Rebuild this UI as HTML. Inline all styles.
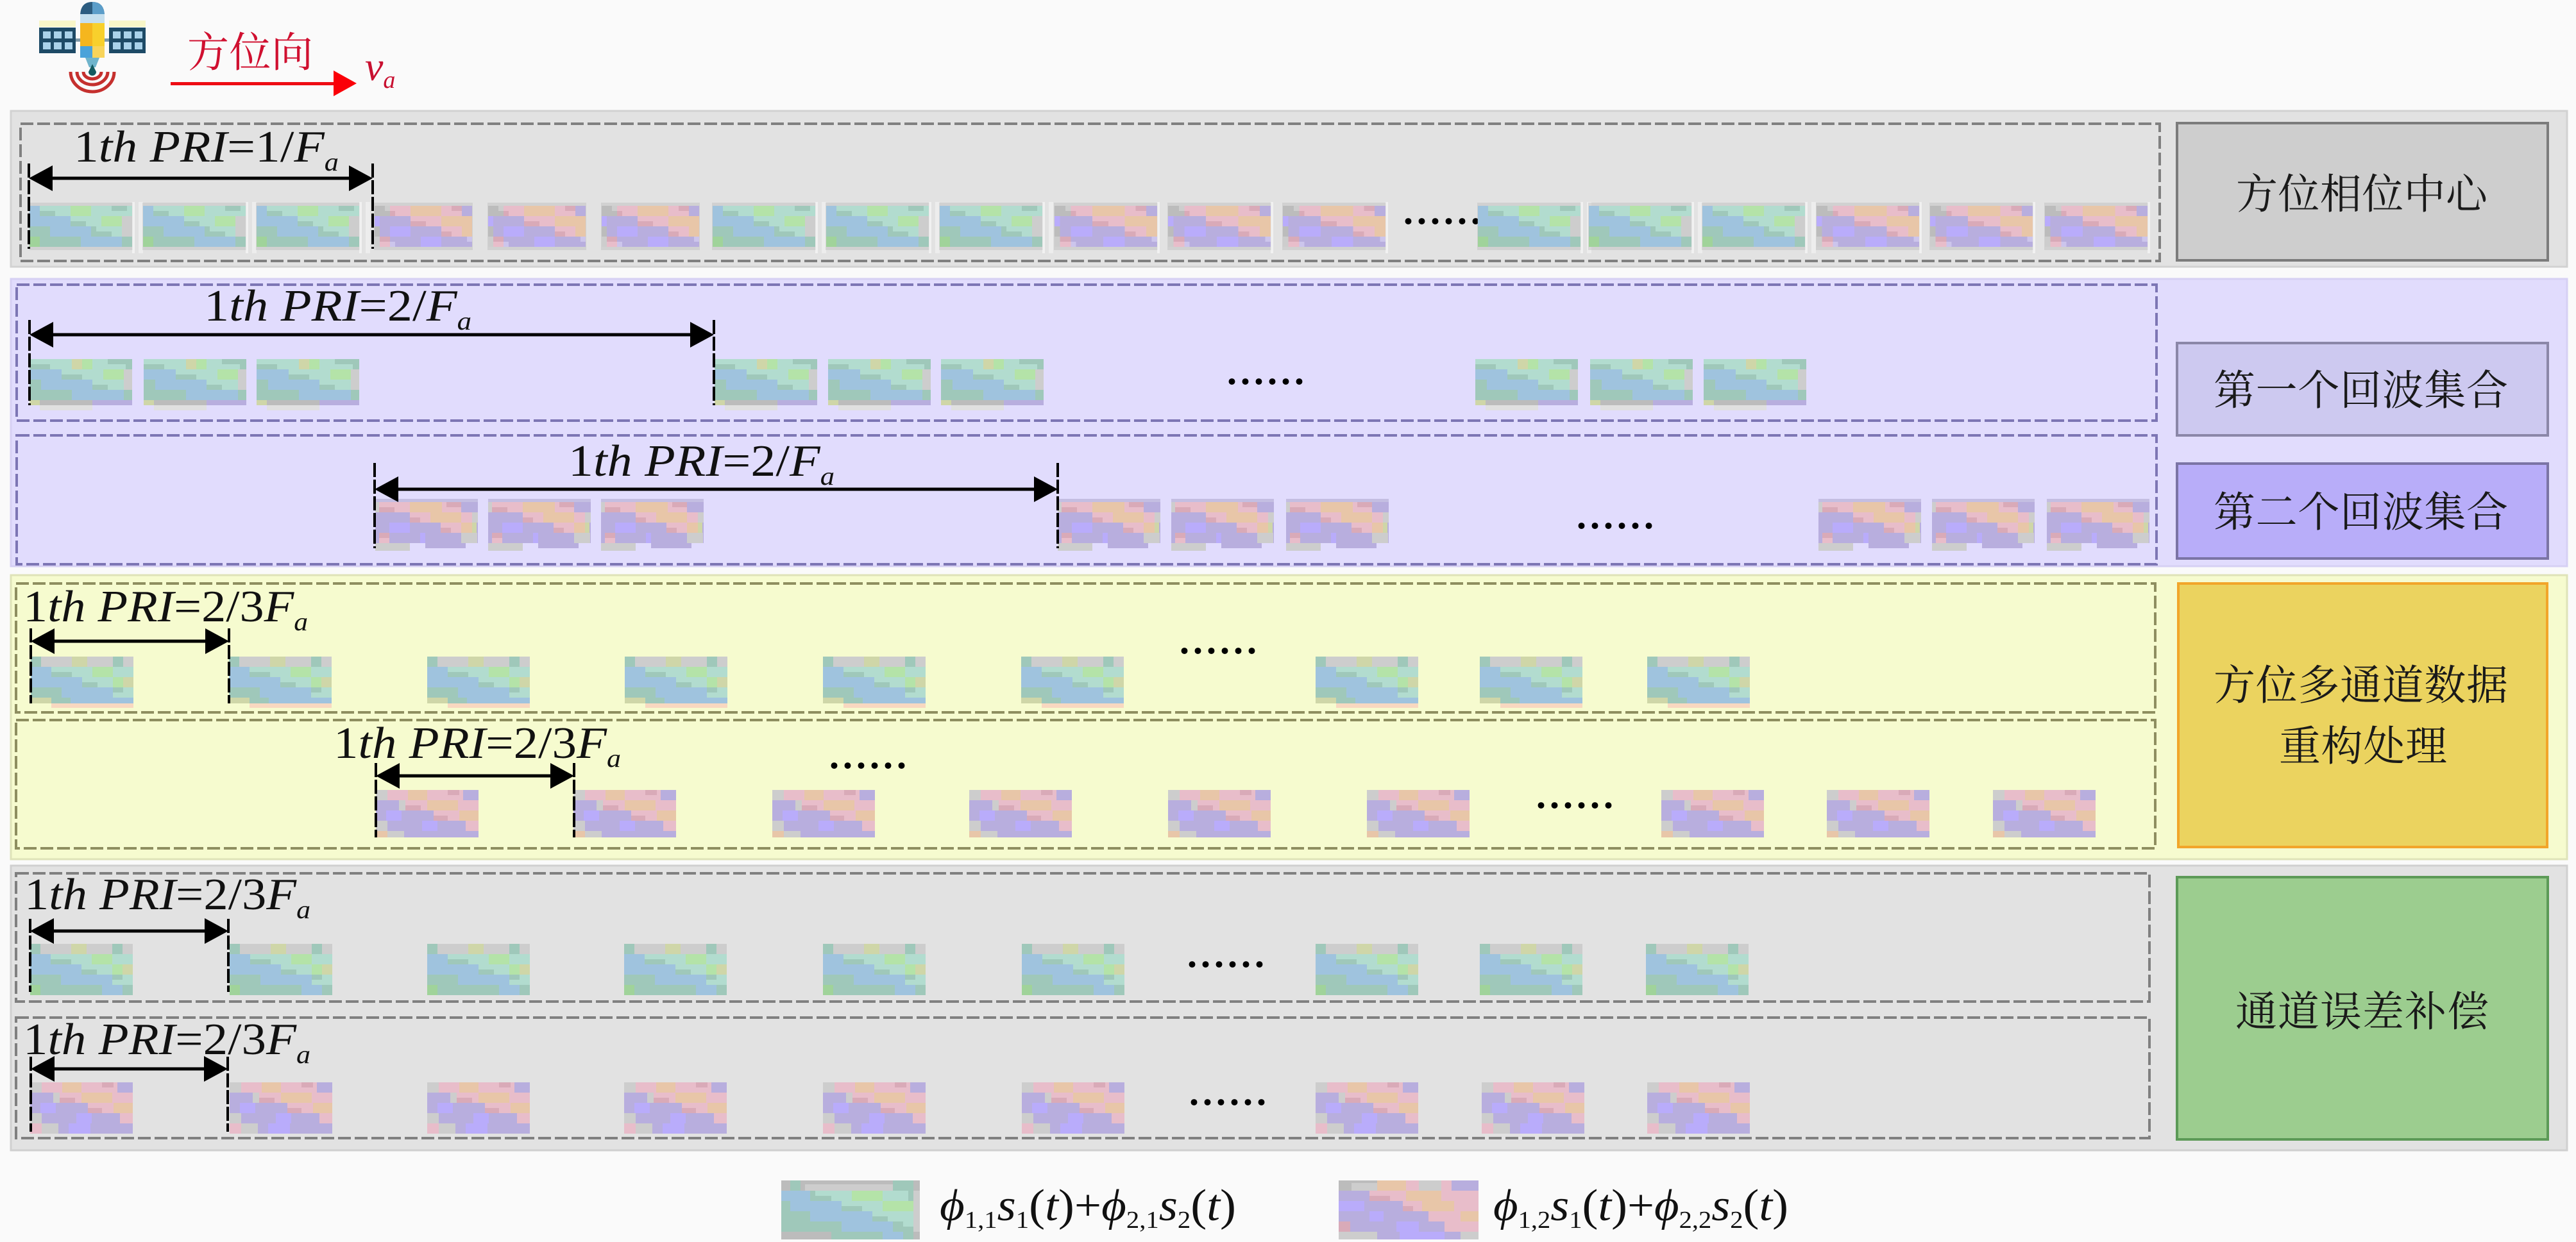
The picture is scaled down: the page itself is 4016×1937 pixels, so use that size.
<!DOCTYPE html>
<html lang="zh">
<head>
<meta charset="utf-8">
<title>方位多通道数据重构</title>
<style>
html,body{margin:0;padding:0;background:#fafafa;width:4016px;height:1937px;overflow:hidden}
svg{display:block}
.m{font-family:"Liberation Serif",serif;font-size:70px;fill:#111}
.i{font-style:italic}
.s{font-size:40px;font-style:italic}
.z{font-size:38px}
.c{font-family:"Liberation Serif","Noto Serif CJK SC",serif;font-size:65px;fill:#1a1a1a}
.d{font-family:"Liberation Serif",serif;font-size:84px;fill:#000}
.B{fill:#9fc3de}.T{fill:#b2dccf}.D{fill:#9fc8ba}.G{fill:#b4e3a8}.L{fill:#a0d39a}.C{fill:#cdcdcd}.K{fill:#bcbcbc}.Y{fill:#cfd6a8}
.P{fill:#e8bdca}.O{fill:#e8c6a8}.V{fill:#b8aede}.U{fill:#b9acfb}.R{fill:#d9aab8}.W{fill:#ccc5ec}
</style>
</head>
<body>
<svg xmlns="http://www.w3.org/2000/svg" width="4016" height="1937" viewBox="0 0 4016 1937">
<defs>
<g id="hl">
<rect x="-1" y="-5" width="162" height="74" fill="#a8a8a8" opacity=".3"/>
<rect x="160" y="-6" width="4" height="80" fill="#fff" opacity=".5"/>
<rect x="170" y="-6" width="7" height="80" fill="#fff" opacity=".4"/>
</g>
<!-- row-1 green, 4 rows -->
<g id="g" shape-rendering="crispEdges">
<use href="#hl"/>
<rect class="B" width="160" height="64"/>
<rect class="T" x="16" width="48" height="16"/><rect class="D" x="16" y="8" width="24" height="8"/>
<rect class="G" x="64" width="32" height="16"/>
<rect class="T" x="96" width="64" height="16"/><rect class="D" x="128" width="24" height="8"/>
<rect class="T" x="64" y="16" width="48" height="16"/><rect class="D" x="64" y="24" width="24" height="8"/>
<rect class="G" x="112" y="16" width="32" height="16"/><rect class="C" x="144" y="16" width="16" height="32"/>
<rect class="D" y="32" width="32" height="16"/>
<rect class="T" x="96" y="32" width="48" height="16"/><rect class="D" x="96" y="32" width="8" height="8"/><rect class="D" x="96" y="40" width="32" height="8"/>
<rect class="L" y="48" width="16" height="16"/><rect class="D" x="16" y="48" width="64" height="16"/>
<rect class="D" x="144" y="48" width="16" height="16"/>
</g>
<!-- row-1 pink base, 152 wide -->
<g id="pb" shape-rendering="crispEdges">
<rect x="-1" y="-5" width="154" height="74" fill="#a8a8a8" opacity=".3"/>
<rect class="V" width="152" height="64"/>
<rect class="K" width="24" height="16"/><rect class="C" x="16" width="8" height="8"/>
<rect class="P" x="24" width="32" height="16"/><rect class="R" x="24" y="8" width="8" height="8"/>
<rect class="O" x="56" width="48" height="16"/>
<rect class="P" x="104" width="32" height="16"/><rect class="R" x="120" width="16" height="8"/>
<rect class="U" y="16" width="8" height="16"/>
<rect class="P" x="56" y="16" width="48" height="16"/><rect class="R" x="56" y="24" width="24" height="8"/>
<rect class="O" x="104" y="16" width="48" height="16"/>
<rect class="K" y="32" width="8" height="16"/><rect class="U" x="24" y="32" width="32" height="16"/>
<rect class="P" x="104" y="32" width="32" height="16"/><rect class="R" x="104" y="40" width="16" height="8"/>
<rect class="O" x="136" y="32" width="16" height="16"/>
<rect class="C" y="48" width="8" height="16"/><rect class="R" x="8" y="48" width="16" height="8"/><rect class="P" x="8" y="56" width="16" height="8"/>
<rect class="W" x="24" y="56" width="8" height="8"/>
<rect class="U" x="72" y="48" width="32" height="16"/><rect class="W" x="144" y="48" width="8" height="8"/>
</g>
<g id="p"><use href="#pb" transform="scale(1.053,1)"/>
<rect x="160" y="-6" width="4" height="80" fill="#fff" opacity=".5"/></g>
<!-- 2a green -->
<g id="ga" shape-rendering="crispEdges">
<rect class="T" width="160" height="16"/>
<rect class="D" y="8" width="32" height="8"/><rect class="Y" x="66" width="16" height="16"/><rect class="G" x="82" width="16" height="16"/>
<rect class="D" x="122" width="28" height="8"/><rect class="D" x="150" width="10" height="16"/>
<rect class="T" y="16" width="160" height="32"/>
<rect class="B" y="16" width="50" height="16"/><rect class="D" x="50" y="24" width="32" height="8"/>
<rect class="G" x="115" y="16" width="32" height="16"/><rect class="C" x="147" y="16" width="13" height="32"/>
<rect class="D" y="32" width="18" height="16"/><rect class="B" x="18" y="32" width="80" height="16"/><rect class="D" x="98" y="40" width="24" height="8"/>
<rect class="D" y="48" width="66" height="16"/><rect class="B" x="66" y="48" width="81" height="16"/><rect class="D" x="147" y="48" width="13" height="16"/>
<rect class="Y" y="64" width="16" height="8"/><rect class="K" x="16" y="64" width="82" height="8"/><rect class="V" x="98" y="64" width="62" height="8"/>
<rect x="16" y="72" width="82" height="8" fill="#e0e0e0"/>
</g>
<!-- 2b pink -->
<g id="pa" shape-rendering="crispEdges">
<rect x="0" y="-5" width="160" height="5" fill="#a8a0c8" opacity=".5"/>
<rect class="V" width="160" height="64"/>
<rect class="C" width="6" height="16"/>
<rect class="P" x="6" width="48" height="16"/><rect class="R" x="6" y="8" width="24" height="8"/>
<rect class="O" x="54" width="50" height="16"/><rect class="P" x="104" width="30" height="16"/><rect class="R" x="111" width="23" height="8"/>
<rect class="P" x="54" y="16" width="32" height="16"/><rect class="R" x="54" y="24" width="16" height="8"/>
<rect class="O" x="86" y="16" width="48" height="16"/><rect class="P" x="134" y="16" width="17" height="16"/><rect class="C" x="151" y="16" width="9" height="16"/>
<rect class="U" x="22" y="32" width="32" height="16"/>
<rect class="P" x="102" y="32" width="32" height="16"/><rect class="R" x="102" y="40" width="16" height="8"/>
<rect class="O" x="134" y="32" width="17" height="16"/><rect class="Y" x="151" y="32" width="7" height="16"/>
<rect class="P" x="6" y="48" width="16" height="16"/><rect class="R" x="6" y="48" width="16" height="8"/>
<rect class="U" x="70" y="48" width="8" height="16"/><rect class="C" x="134" y="48" width="25" height="16"/>
<rect class="C" y="64" width="54" height="12"/><rect class="V" x="78" y="64" width="63" height="8"/>
</g>
<!-- 5 row green top -->
<g id="gt" shape-rendering="crispEdges">
<rect class="B" width="160" height="64"/>
<rect class="C" width="160" height="16"/><rect class="D" width="16" height="16"/><rect class="Y" x="64" width="24" height="16"/><rect class="D" x="128" width="16" height="16"/>
<rect class="T" x="32" y="16" width="64" height="16"/><rect class="D" x="32" y="24" width="32" height="8"/>
<rect class="G" x="96" y="16" width="32" height="16"/><rect class="T" x="128" y="16" width="32" height="16"/>
<rect class="T" x="80" y="32" width="48" height="16"/><rect class="D" x="80" y="40" width="24" height="8"/>
<rect class="G" x="128" y="32" width="16" height="16"/><rect class="Y" x="144" y="32" width="16" height="16"/>
<rect class="D" y="48" width="48" height="16"/><rect class="T" x="128" y="48" width="32" height="16"/><rect class="D" x="128" y="48" width="16" height="8"/>
</g>
<g id="g5" shape-rendering="crispEdges"><use href="#gt"/>
<rect class="L" y="64" width="16" height="16"/><rect class="D" x="16" y="64" width="96" height="16"/><rect class="B" x="112" y="64" width="32" height="16"/><rect class="D" x="144" y="64" width="16" height="16"/>
</g>
<g id="g3" shape-rendering="crispEdges"><use href="#gt"/>
<rect class="Y" y="64" width="32" height="9"/><rect class="D" x="32" y="64" width="30" height="9"/><rect class="B" x="62" y="64" width="98" height="9"/>
<rect x="32" y="73" width="128" height="7" fill="#f8d8c0"/>
</g>
<!-- 5 row pink top -->
<g id="pt" shape-rendering="crispEdges">
<rect class="V" width="160" height="64"/>
<rect class="C" width="18" height="16"/><rect class="P" x="18" width="32" height="16"/><rect class="O" x="50" width="30" height="16"/>
<rect class="P" x="80" width="56" height="16"/><rect class="R" x="112" width="18" height="8"/>
<rect class="C" x="36" y="16" width="10" height="16"/><rect class="P" x="46" y="16" width="34" height="16"/><rect class="R" x="46" y="24" width="24" height="8"/>
<rect class="O" x="80" y="16" width="48" height="16"/><rect class="P" x="128" y="16" width="32" height="16"/>
<rect class="U" x="16" y="32" width="24" height="16"/><rect class="P" x="90" y="32" width="40" height="16"/><rect class="R" x="90" y="40" width="22" height="8"/><rect class="O" x="130" y="32" width="30" height="16"/>
<rect class="C" y="48" width="18" height="16"/><rect class="U" x="72" y="48" width="24" height="16"/><rect class="P" x="140" y="48" width="20" height="16"/>
</g>
<g id="p5" shape-rendering="crispEdges"><use href="#pt"/>
<rect class="P" y="64" width="18" height="16"/><rect class="C" x="18" y="64" width="26" height="16"/><rect class="V" x="44" y="64" width="116" height="16"/><rect class="U" x="60" y="64" width="34" height="16"/>
</g>
<g id="p3" shape-rendering="crispEdges"><use href="#pt"/>
<rect class="O" y="64" width="18" height="10"/><rect class="C" x="18" y="64" width="26" height="10"/><rect class="V" x="44" y="64" width="116" height="10"/>
</g>
<!-- legend chips -->
<g id="lg" shape-rendering="crispEdges">
<rect class="K" width="216" height="92"/>
<rect class="C" x="37" y="6" width="137" height="10"/><rect class="D" x="14" width="16" height="16"/><rect class="D" x="174" width="32" height="16"/>
<rect class="T" y="16" x="45" width="161" height="32"/><rect class="B" y="16" width="45" height="16"/><rect class="D" x="45" y="16" width="8" height="8"/><rect class="D" x="45" y="24" width="33" height="8"/>
<rect class="G" x="110" y="16" width="48" height="16"/><rect class="D" x="198" y="16" width="8" height="16"/><rect class="C" x="206" y="16" width="10" height="64"/>
<rect class="D" y="32" width="14" height="16"/><rect class="B" x="14" y="32" width="80" height="16"/><rect class="T" x="94" y="32" width="64" height="16"/><rect class="D" x="94" y="40" width="32" height="8"/><rect class="G" x="158" y="32" width="48" height="16"/>
<rect class="D" y="48" width="45" height="16"/><rect class="B" x="45" y="48" width="97" height="16"/><rect class="T" x="142" y="48" width="64" height="16"/><rect class="D" x="142" y="56" width="24" height="8"/>
<rect class="D" y="64" width="94" height="16"/><rect class="B" x="94" y="64" width="80" height="16"/><rect class="D" x="174" y="64" width="32" height="16"/><rect class="T" x="190" y="64" width="16" height="8"/>
<rect class="K" y="80" width="78" height="12"/><rect class="D" x="78" y="80" width="80" height="12"/><rect class="B" x="158" y="80" width="32" height="12"/><rect class="D" x="190" y="80" width="16" height="12"/>
</g>
<g id="lp" shape-rendering="crispEdges">
<rect class="V" width="218" height="92"/>
<rect class="K" width="60" height="16"/><rect class="C" x="20" y="4" width="40" height="12"/><rect class="O" x="60" width="45" height="16"/><rect class="P" x="105" width="20" height="16"/><rect class="C" x="125" width="35" height="16"/><rect class="P" x="160" width="16" height="16"/>
<rect class="P" x="48" y="16" width="57" height="16"/><rect class="R" x="48" y="24" width="32" height="8"/><rect class="O" x="105" y="16" width="55" height="16"/><rect class="P" x="160" y="16" width="58" height="16"/>
<rect class="U" y="32" width="40" height="16"/><rect class="P" x="100" y="32" width="30" height="16"/><rect class="R" x="100" y="40" width="16" height="8"/><rect class="O" x="130" y="32" width="50" height="16"/><rect class="P" x="180" y="32" width="38" height="16"/>
<rect class="U" x="48" y="48" width="22" height="16"/><rect class="P" x="140" y="48" width="50" height="16"/><rect class="O" x="190" y="48" width="28" height="16"/>
<rect class="R" y="64" width="18" height="16"/><rect class="U" x="90" y="64" width="35" height="16"/><rect class="P" x="165" y="64" width="53" height="16"/>
<rect class="C" y="80" width="60" height="12"/><rect class="U" x="95" y="80" width="70" height="12"/><rect class="C" x="190" y="80" width="28" height="12"/>
</g>
<g id="al"><path d="M0 0L37 -20V20Z" fill="#000"/></g>
<g id="ar"><path d="M0 0L-37 -20V20Z" fill="#000"/></g>
</defs>

<rect width="4016" height="1937" fill="#fafafa"/>

<!-- satellite -->
<g>
<rect x="61" y="32" width="57" height="10" fill="#f8f6c8"/><rect x="170" y="32" width="57" height="10" fill="#f8f6c8"/>
<rect x="61" y="43" width="57" height="40" fill="#1d4a66"/><rect x="170" y="43" width="57" height="40" fill="#1d4a66"/>
<g fill="#a9d2ea">
<rect x="67" y="49" width="12" height="11"/><rect x="84" y="49" width="12" height="11"/><rect x="101" y="49" width="12" height="11"/>
<rect x="67" y="66" width="12" height="11"/><rect x="84" y="66" width="12" height="11"/><rect x="101" y="66" width="12" height="11"/>
<rect x="176" y="49" width="12" height="11"/><rect x="193" y="49" width="12" height="11"/><rect x="210" y="49" width="12" height="11"/>
<rect x="176" y="66" width="12" height="11"/><rect x="193" y="66" width="12" height="11"/><rect x="210" y="66" width="12" height="11"/>
</g>
<rect x="118" y="60" width="52" height="5" fill="#7f9aa8"/>
<path d="M125 25Q125 3 144 3Q163 3 163 25V36H125Z" fill="#2c5c80"/>
<path d="M144 3Q163 3 163 25V36H144Z" fill="#5b9dc9"/>
<rect x="125" y="22" width="38" height="14" fill="#c5dfee"/>
<rect x="125" y="36" width="38" height="36" fill="#f5b61e"/>
<rect x="144" y="36" width="19" height="36" fill="#f8d02c"/>
<rect x="125" y="72" width="38" height="18" fill="#4aa3da"/>
<rect x="144" y="72" width="19" height="18" fill="#f8d45a"/>
<path d="M133 90H155L149 105H139Z" fill="#6fb4cc"/>
<path d="M144 100L150 112A6 6 0 0 1 138 112Z" fill="#135a60"/>
<path d="M110 112A34 31 0 0 0 178 112" fill="none" stroke="#c5302e" stroke-width="5"/>
<path d="M120 112A24 20 0 0 0 168 112" fill="none" stroke="#c5302e" stroke-width="5"/>
<path d="M130 112A14 11 0 0 0 158 112" fill="none" stroke="#c5302e" stroke-width="5"/>
</g>
<text x="292" y="104" font-family="'Liberation Serif','Noto Serif CJK SC',serif" font-size="65" fill="#d01030" textLength="196">方位向</text>
<rect x="266" y="128" width="256" height="5" fill="#ee0c14"/>
<path d="M520 110L556 130L520 150Z" fill="#fa0008"/>
<text x="569" y="125" class="i" font-family="'Liberation Serif',serif" font-size="64" fill="#c81030">v<tspan font-size="38" dy="12">a</tspan></text>

<!-- panels -->
<rect x="17" y="173" width="3985" height="243" fill="#e2e2e2" stroke="#d2d2d2" stroke-width="3"/>
<rect x="17" y="435" width="3985" height="448" fill="#e1dcfd" stroke="#d6d0f4" stroke-width="3"/>
<rect x="17" y="897" width="3985" height="443" fill="#f6fbcf" stroke="#dfe3b8" stroke-width="3"/>
<rect x="17" y="1350" width="3985" height="444" fill="#e2e2e2" stroke="#d0d0d0" stroke-width="3"/>

<!-- dashed boxes -->
<g fill="none" stroke-width="4" stroke-dasharray="20 6">
<rect x="32" y="193" width="3335" height="214" stroke="#808080"/>
<rect x="26" y="444" width="3336" height="212" stroke="#7d76b4"/>
<rect x="26" y="679" width="3336" height="201" stroke="#7d76b4"/>
<rect x="25" y="910" width="3335" height="201" stroke="#8e8e60"/>
<rect x="25" y="1123" width="3335" height="200" stroke="#8e8e60"/>
<rect x="25" y="1362" width="3326" height="200" stroke="#808080"/>
<rect x="25" y="1587" width="3326" height="188" stroke="#808080"/>
</g>

<!-- right boxes -->
<g stroke-width="4">
<rect x="3394" y="192" width="578" height="214" fill="#cecece" stroke="#7c7c7c"/>
<rect x="3394" y="535" width="578" height="144" fill="#cdc9f0" stroke="#8b87a8"/>
<rect x="3394" y="723" width="578" height="148" fill="#b8adf9" stroke="#7b74a5"/>
<rect x="3396" y="910" width="575" height="411" fill="#ebd35f" stroke="#f2a52a"/>
<rect x="3394" y="1368" width="578" height="409" fill="#9ccd8f" stroke="#5c9a57"/>
</g>
<text class="c" x="3486" y="325" textLength="392">方位相位中心</text>
<text class="c" x="3451" y="631" textLength="459">第一个回波集合</text>
<text class="c" x="3451" y="821" textLength="459">第二个回波集合</text>
<text class="c" x="3451" y="1091" textLength="459">方位多通道数据</text>
<text class="c" x="3553" y="1186" textLength="262">重构处理</text>
<text class="c" x="3485" y="1600" textLength="395">通道误差补偿</text>

<!-- row 1 dots sit beneath the chips -->
<text class="d" x="2185" y="349">......</text>

<!-- row 1 chips -->
<use href="#g" x="46" y="321"/><use href="#g" x="223" y="321"/><use href="#g" x="400" y="321"/>
<use href="#pb" x="584" y="321"/><use href="#pb" x="761" y="321"/><use href="#pb" x="938" y="321"/>
<use href="#g" x="1111" y="321"/><use href="#g" x="1288" y="321"/><use href="#g" x="1465" y="321"/>
<use href="#p" x="1644" y="321"/><use href="#p" x="1821" y="321"/><use href="#p" x="2000" y="321"/>
<use href="#g" x="2304" y="321"/><use href="#g" x="2477" y="321"/><use href="#g" x="2654" y="321"/>
<use href="#p" x="2832" y="321"/><use href="#p" x="3009" y="321"/><use href="#p" x="3188" y="321"/>
<!-- 2a -->
<use href="#ga" x="46" y="560"/><use href="#ga" x="224" y="560"/><use href="#ga" x="400" y="560"/>
<use href="#ga" x="1114" y="560"/><use href="#ga" x="1291" y="560"/><use href="#ga" x="1467" y="560"/>
<use href="#ga" x="2300" y="560"/><use href="#ga" x="2479" y="560"/><use href="#ga" x="2656" y="560"/>
<!-- 2b -->
<use href="#pa" x="585" y="783"/><use href="#pa" x="761" y="783"/><use href="#pa" x="937" y="783"/>
<use href="#pa" x="1649" y="783"/><use href="#pa" x="1826" y="783"/><use href="#pa" x="2005" y="783"/>
<use href="#pa" x="2835" y="783"/><use href="#pa" x="3012" y="783"/><use href="#pa" x="3191" y="783"/>
<!-- 3a -->
<use href="#g3" x="48" y="1024"/><use href="#g3" x="357" y="1024"/><use href="#g3" x="666" y="1024"/><use href="#g3" x="974" y="1024"/><use href="#g3" x="1283" y="1024"/><use href="#g3" x="1592" y="1024"/><use href="#g3" x="2051" y="1024"/><use href="#g3" x="2307" y="1024"/><use href="#g3" x="2568" y="1024"/>
<!-- 3b -->
<use href="#p3" x="586" y="1232"/><use href="#p3" x="894" y="1232"/><use href="#p3" x="1204" y="1232"/><use href="#p3" x="1511" y="1232"/><use href="#p3" x="1821" y="1232"/><use href="#p3" x="2131" y="1232"/><use href="#p3" x="2590" y="1232"/><use href="#p3" x="2848" y="1232"/><use href="#p3" x="3107" y="1232"/>
<!-- 4a -->
<use href="#g5" x="47" y="1472"/><use href="#g5" x="358" y="1472"/><use href="#g5" x="666" y="1472"/><use href="#g5" x="973" y="1472"/><use href="#g5" x="1283" y="1472"/><use href="#g5" x="1593" y="1472"/><use href="#g5" x="2051" y="1472"/><use href="#g5" x="2307" y="1472"/><use href="#g5" x="2566" y="1472"/>
<!-- 4b -->
<use href="#p5" x="47" y="1688"/><use href="#p5" x="358" y="1688"/><use href="#p5" x="666" y="1688"/><use href="#p5" x="973" y="1688"/><use href="#p5" x="1283" y="1688"/><use href="#p5" x="1593" y="1688"/><use href="#p5" x="2051" y="1688"/><use href="#p5" x="2310" y="1688"/><use href="#p5" x="2568" y="1688"/>
<!-- legend chips -->
<use href="#lg" x="1218" y="1841"/>
<use href="#lp" x="2087" y="1841"/>

<!-- ticks -->
<g stroke="#000" stroke-width="4" stroke-dasharray="22 4">
<path d="M45 255V388M581 255V388"/>
<path d="M46 499V632M1113 499V632"/>
<path d="M584 722V855M1649 722V855"/>
<path d="M48 980V1097M357 980V1097"/>
<path d="M586 1190V1306M895 1190V1306"/>
<path d="M47 1433V1547M356 1433V1547"/>
<path d="M48 1648V1765M355 1648V1765"/>
</g>

<!-- arrows -->
<g fill="#000">
<rect x="78" y="275.500" width="470" height="5"/><use href="#al" x="45" y="278"/><use href="#ar" x="581" y="278"/>
<rect x="78" y="519.500" width="1000" height="5"/><use href="#al" x="46" y="522"/><use href="#ar" x="1113" y="522"/>
<rect x="616" y="760.500" width="1000" height="5"/><use href="#al" x="584" y="763"/><use href="#ar" x="1649" y="763"/>
<rect x="80" y="997.500" width="245" height="5"/><use href="#al" x="48" y="1000"/><use href="#ar" x="357" y="1000"/>
<rect x="618" y="1207.500" width="245" height="5"/><use href="#al" x="586" y="1210"/><use href="#ar" x="895" y="1210"/>
<rect x="79" y="1449.500" width="245" height="5"/><use href="#al" x="47" y="1452"/><use href="#ar" x="356" y="1452"/>
<rect x="80" y="1664.500" width="243" height="5"/><use href="#al" x="48" y="1667"/><use href="#ar" x="355" y="1667"/>
</g>

<!-- PRI labels -->
<text class="m" x="115" y="252" textLength="413" lengthAdjust="spacingAndGlyphs">1<tspan class="i">th PRI</tspan>=1/<tspan class="i">F</tspan><tspan class="s" dy="14">a</tspan></text>
<text class="m" x="318" y="500" textLength="417" lengthAdjust="spacingAndGlyphs">1<tspan class="i">th PRI</tspan>=2/<tspan class="i">F</tspan><tspan class="s" dy="14">a</tspan></text>
<text class="m" x="886" y="742" textLength="415" lengthAdjust="spacingAndGlyphs">1<tspan class="i">th PRI</tspan>=2/<tspan class="i">F</tspan><tspan class="s" dy="14">a</tspan></text>
<text class="m" x="36" y="969" textLength="444" lengthAdjust="spacingAndGlyphs">1<tspan class="i">th PRI</tspan>=2/3<tspan class="i">F</tspan><tspan class="s" dy="14">a</tspan></text>
<text class="m" x="520" y="1182" textLength="448" lengthAdjust="spacingAndGlyphs">1<tspan class="i">th PRI</tspan>=2/3<tspan class="i">F</tspan><tspan class="s" dy="14">a</tspan></text>
<text class="m" x="38" y="1418" textLength="446" lengthAdjust="spacingAndGlyphs">1<tspan class="i">th PRI</tspan>=2/3<tspan class="i">F</tspan><tspan class="s" dy="14">a</tspan></text>
<text class="m" x="36" y="1644" textLength="448" lengthAdjust="spacingAndGlyphs">1<tspan class="i">th PRI</tspan>=2/3<tspan class="i">F</tspan><tspan class="s" dy="14">a</tspan></text>

<!-- dots -->
<text class="d" x="1910" y="599">......</text>
<text class="d" x="2455" y="824">......</text>
<text class="d" x="1836" y="1019">......</text>
<text class="d" x="1290" y="1198">......</text>
<text class="d" x="2392" y="1260">......</text>
<text class="d" x="1848" y="1508">......</text>
<text class="d" x="1851" y="1723">......</text>

<!-- legend text -->
<text class="m" x="1465" y="1903" textLength="462" lengthAdjust="spacingAndGlyphs"><tspan class="i">ϕ</tspan><tspan class="z" dy="12">1,1</tspan><tspan class="i" dy="-12">s</tspan><tspan class="z" dy="12">1</tspan><tspan dy="-12">(</tspan><tspan class="i">t</tspan>)+<tspan class="i">ϕ</tspan><tspan class="z" dy="12">2,1</tspan><tspan class="i" dy="-12">s</tspan><tspan class="z" dy="12">2</tspan><tspan dy="-12">(</tspan><tspan class="i">t</tspan>)</text>
<text class="m" x="2328" y="1903" textLength="460" lengthAdjust="spacingAndGlyphs"><tspan class="i">ϕ</tspan><tspan class="z" dy="12">1,2</tspan><tspan class="i" dy="-12">s</tspan><tspan class="z" dy="12">1</tspan><tspan dy="-12">(</tspan><tspan class="i">t</tspan>)+<tspan class="i">ϕ</tspan><tspan class="z" dy="12">2,2</tspan><tspan class="i" dy="-12">s</tspan><tspan class="z" dy="12">2</tspan><tspan dy="-12">(</tspan><tspan class="i">t</tspan>)</text>
</svg>
</body>
</html>
